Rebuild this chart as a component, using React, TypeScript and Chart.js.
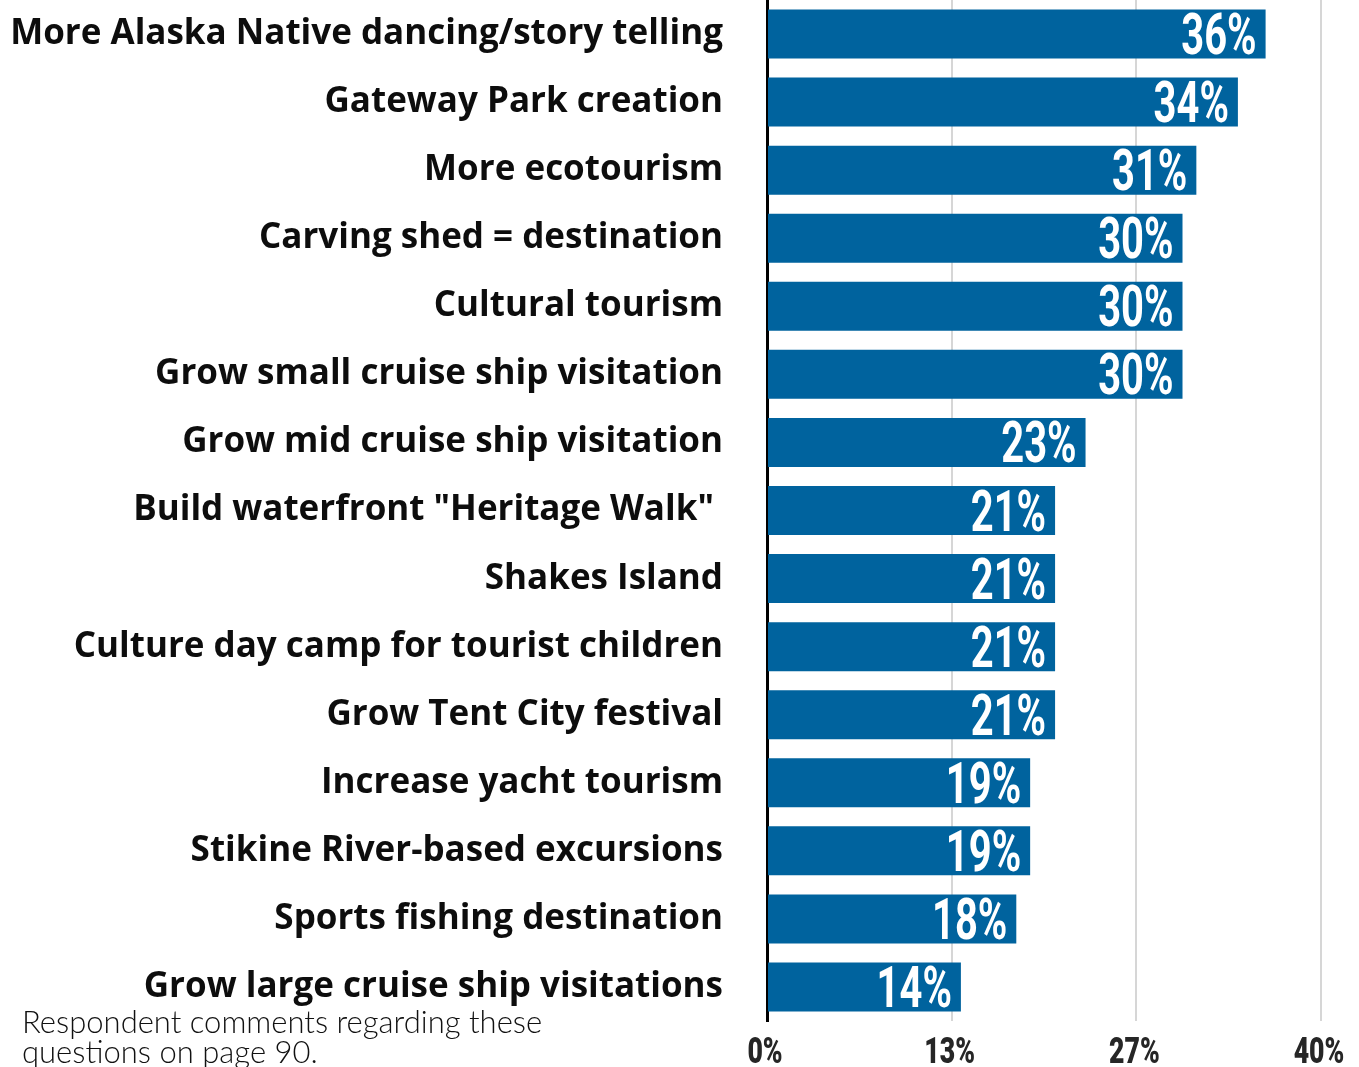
import React, { useEffect, useRef } from "react";
import { Chart, registerables } from "chart.js";

Chart.register(...registerables);

const categories = [
  "More Alaska Native dancing/story telling",
  "Gateway Park creation",
  "More ecotourism",
  "Carving shed = destination",
  "Cultural tourism",
  "Grow small cruise ship visitation",
  "Grow mid cruise ship visitation",
  'Build waterfront "Heritage Walk" ',
  "Shakes Island",
  "Culture day camp for tourist children",
  "Grow Tent City festival",
  "Increase yacht tourism",
  "Stikine River-based excursions",
  "Sports fishing destination",
  "Grow large cruise ship visitations",
];

const values = [36, 34, 31, 30, 30, 30, 23, 20.8, 20.8, 20.8, 20.8, 19, 19, 18, 14];
const valueLabels = ["36%", "34%", "31%", "30%", "30%", "30%", "23%", "21%", "21%", "21%", "21%", "19%", "19%", "18%", "14%"];
const tickValues = [0, 40 / 3, 80 / 3, 40];
const tickLabels = ["0%", "13%", "27%", "40%"];
const footnoteLines = ["Respondent comments regarding these", "questions on page 90."];

const W = 1359;
const H = 1067;

const labelPlugin = {
  id: "customLabels",
  afterDatasetsDraw(chart: any) {
    const ctx = chart.ctx;
    const meta = chart.getDatasetMeta(0);
    ctx.save();
    ctx.fillStyle = "#ffffff";
    ctx.font = "bold 57px Roboto";
    ctx.textAlign = "right";
    ctx.textBaseline = "alphabetic";
    meta.data.forEach((bar: any, i: number) => {
      ctx.save();
      ctx.translate(bar.x - 9, bar.y + 20);
      ctx.scale(0.7, 1);
      ctx.fillText(valueLabels[i], 0, 0);
      ctx.restore();
    });
    ctx.restore();
  },
  afterDraw(chart: any) {
    const ctx = chart.ctx;
    const xs = chart.scales.x;
    ctx.save();
    ctx.fillStyle = "#262626";
    ctx.font = "900 36px Roboto";
    ctx.textAlign = "center";
    ctx.textBaseline = "alphabetic";
    tickValues.forEach((v, i) => {
      const px = xs.getPixelForValue(v);
      ctx.save();
      ctx.translate(px - 2, 1063);
      ctx.scale(0.74, 1);
      ctx.fillText(tickLabels[i], 0, 0);
      ctx.restore();
    });
    ctx.restore();
  },
};

export default function App() {
  const ref = useRef<HTMLCanvasElement | null>(null);
  useEffect(() => {
    if (!ref.current) return;
    const chart = new Chart(ref.current, {
      type: "bar",
      data: {
        labels: categories,
        datasets: [
          {
            data: values,
            backgroundColor: "#00639e",
            borderWidth: 0,
            categoryPercentage: 1,
            barPercentage: 0.72,
          },
        ],
      },
      options: {
        indexAxis: "y",
        responsive: false,
        animation: false,
        layout: { padding: { left: 0, right: 38, top: 0, bottom: 0 } },
        plugins: { legend: { display: false }, tooltip: { enabled: false } },
        scales: {
          x: {
            min: 0,
            max: 40,
            afterBuildTicks: (scale: any) => {
              scale.ticks = tickValues.map((v) => ({ value: v }));
            },
            afterFit: (scale: any) => {
              scale.height = 46;
              scale.paddingLeft = 0;
              scale.paddingRight = 0;
            },
            ticks: { display: false },
            grid: {
              drawTicks: false,
              color: (c: any) => (c.index === 0 ? "rgba(0,0,0,0)" : "#d6d6d6"),
              lineWidth: 2,
            },
            border: { display: false },
          },
          y: {
            afterFit: (scale: any) => {
              scale.width = 767;
              scale.paddingTop = 0;
              scale.paddingBottom = 0;
            },
            ticks: {
              padding: 44,
              color: "#0d0d0d",
              font: { family: "'Open Sans'", weight: "700", size: 35 },
            },
            grid: { display: false, drawTicks: false },
            border: { display: true, color: "#000000", width: 3 },
          },
        },
      },
      plugins: [labelPlugin],
    });
    return () => chart.destroy();
  }, []);
  return (
    <div>
      <canvas
        ref={ref}
        width={W}
        height={H}
        style={{ position: "absolute", left: 0, top: 0, width: W, height: H }}
      />
      <div
        style={{
          position: "absolute",
          left: 22,
          top: 1006,
          fontFamily: "Lato",
          fontWeight: 300,
          fontSize: 31,
          lineHeight: "30px",
          color: "#111",
          whiteSpace: "nowrap",
        }}
      >
        {footnoteLines.map((l, i) => (
          <div key={i}>{l}</div>
        ))}
      </div>
    </div>
  );
}
